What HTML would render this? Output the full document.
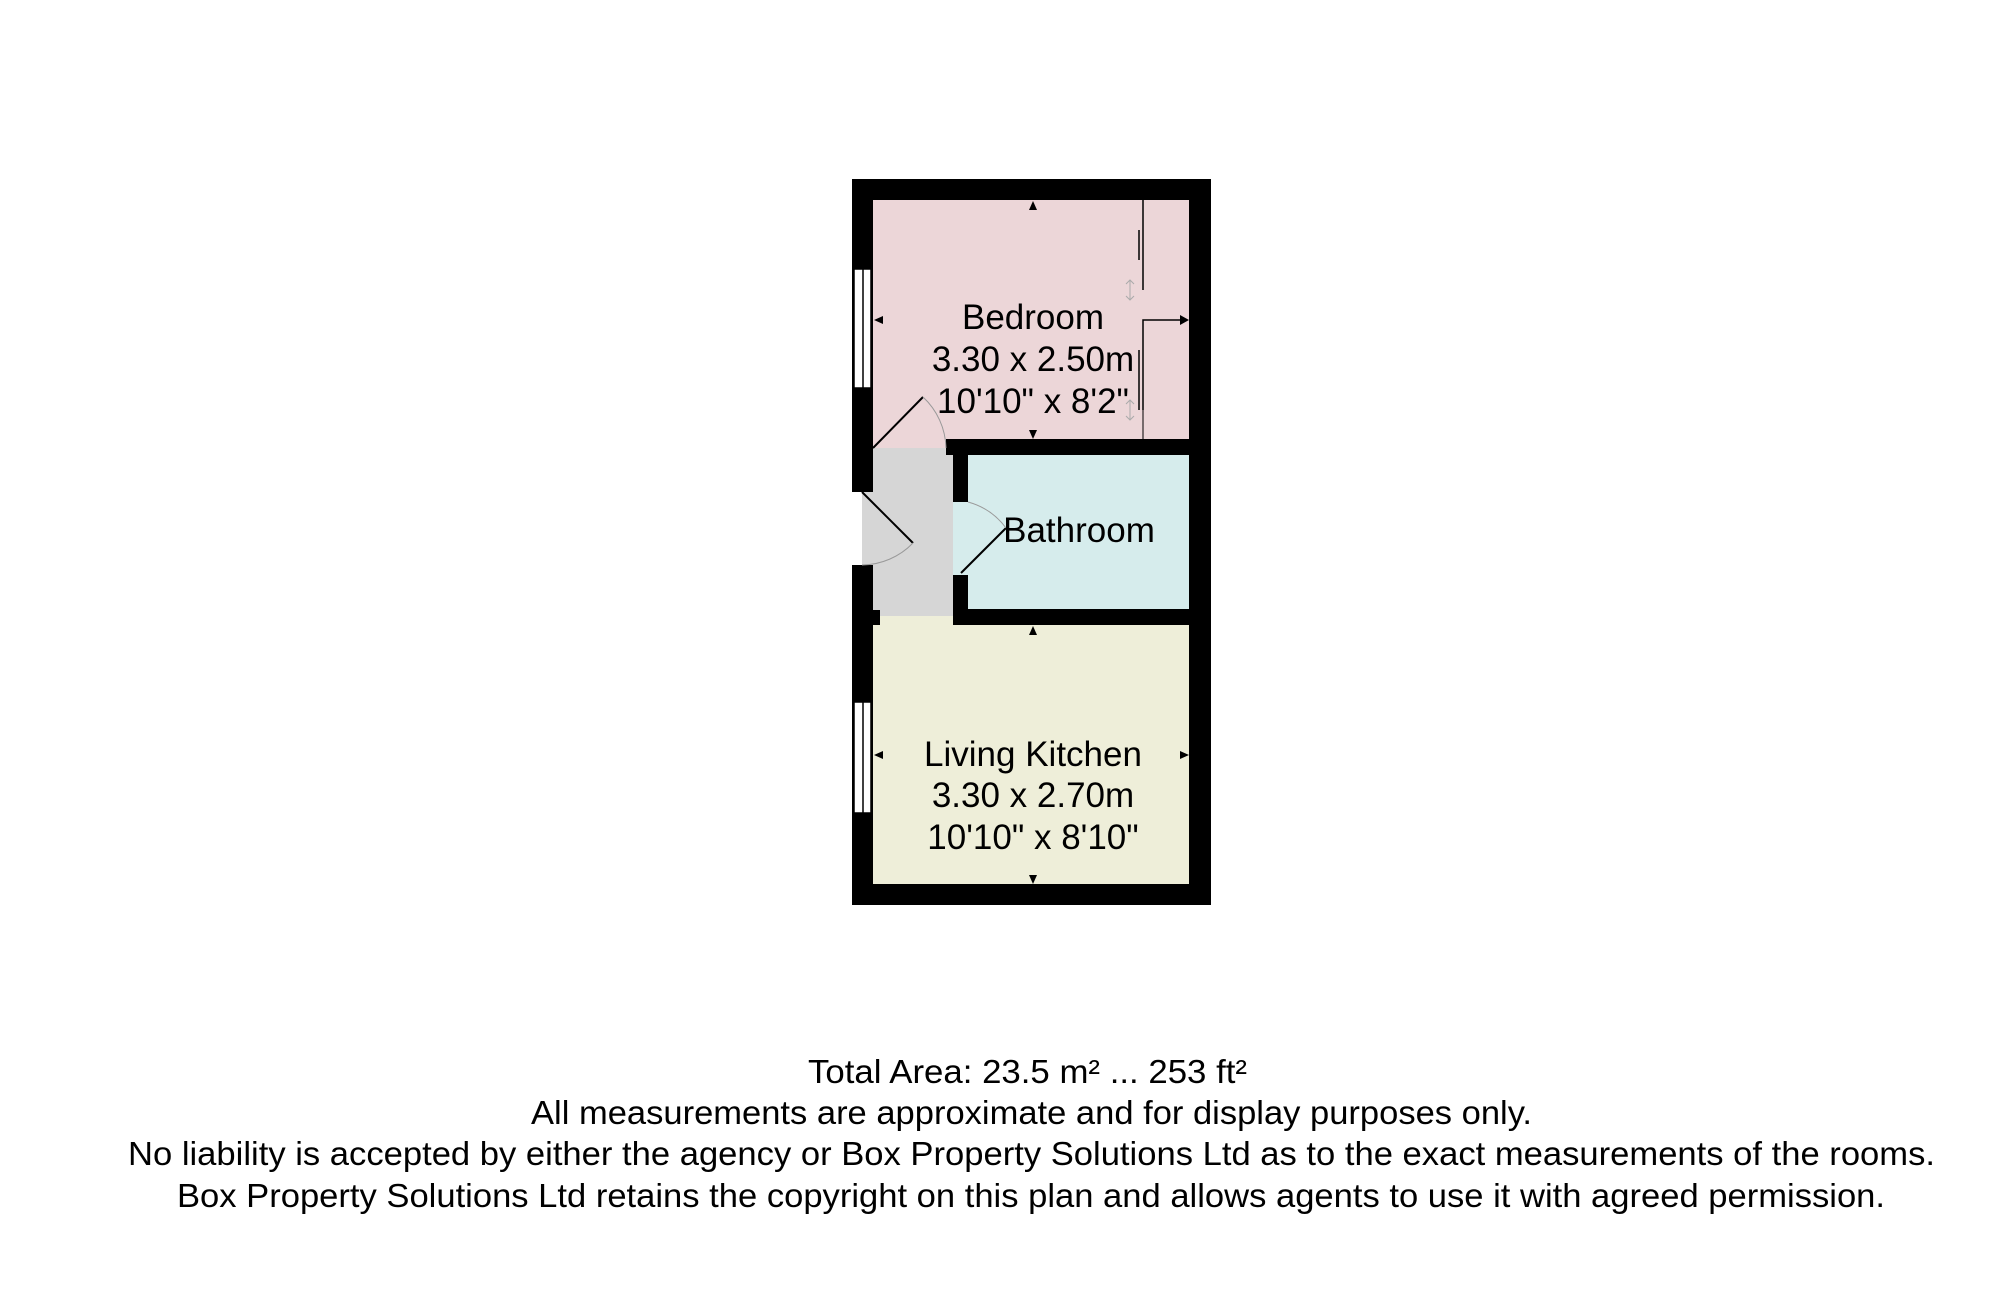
<!DOCTYPE html>
<html><head><meta charset="utf-8"><style>
html,body{margin:0;padding:0;background:#fff;}
svg{display:block;}
text{font-family:"Liberation Sans",Arial,sans-serif;fill:#000;}
</style></head><body>
<svg width="2000" height="1315" viewBox="0 0 2000 1315" xmlns="http://www.w3.org/2000/svg">
<rect width="2000" height="1315" fill="#fff"/>
<!-- room fills -->
<rect x="873" y="200" width="316" height="248" fill="#ecd6d8"/>
<rect x="862" y="448" width="91" height="168" fill="#d6d6d6"/>
<rect x="953" y="455" width="237" height="154" fill="#d6ecec"/>
<rect x="953" y="502" width="7" height="73" fill="#d6ecec"/>
<rect x="873" y="616" width="316" height="268" fill="#eeeed9"/>
<!-- walls -->
<rect x="852" y="179" width="359" height="21" fill="#000"/>
<rect x="1189" y="179" width="22" height="726" fill="#000"/>
<rect x="852" y="884" width="359" height="21" fill="#000"/>
<rect x="852" y="179" width="21" height="313" fill="#000"/>
<rect x="852" y="565" width="21" height="340" fill="#000"/>
<rect x="852" y="610" width="28" height="15" fill="#000"/>
<rect x="946" y="439" width="265" height="16" fill="#000"/>
<rect x="953" y="439" width="15" height="63" fill="#000"/>
<rect x="953" y="575" width="15" height="50" fill="#000"/>
<rect x="953" y="609" width="258" height="16" fill="#000"/>
<!-- windows -->
<rect x="854" y="269" width="17" height="119" fill="#fff" stroke="#000" stroke-width="1.5"/>
<line x1="863" y1="269" x2="863" y2="388" stroke="#000" stroke-width="1.5"/>
<rect x="854" y="702" width="17" height="111" fill="#fff" stroke="#000" stroke-width="1.5"/>
<line x1="863" y1="702" x2="863" y2="813" stroke="#000" stroke-width="1.5"/>
<!-- doors -->
<line x1="873" y1="448" x2="923" y2="397" stroke="#000" stroke-width="2"/>
<path d="M923 397 A72 72 0 0 1 946 448" fill="none" stroke="#999" stroke-width="1"/>
<line x1="862" y1="492" x2="913" y2="543" stroke="#000" stroke-width="2"/>
<path d="M913 543 A72 72 0 0 1 862 565" fill="none" stroke="#999" stroke-width="1"/>
<line x1="961" y1="573" x2="1006" y2="528" stroke="#000" stroke-width="2"/>
<path d="M968 502 A70 70 0 0 1 1006 528" fill="none" stroke="#999" stroke-width="1"/>
<!-- wardrobe lines -->
<line x1="1143" y1="200" x2="1143" y2="290" stroke="#000" stroke-width="1.5"/>
<line x1="1139" y1="230" x2="1139" y2="260" stroke="#000" stroke-width="1.5"/>
<polyline points="1143,410 1143,320 1180,320" fill="none" stroke="#000" stroke-width="1.5"/>
<polygon points="1180,315 1189,320 1180,325" fill="#000"/>
<line x1="1139" y1="350" x2="1139" y2="410" stroke="#000" stroke-width="1.5"/>
<line x1="1143" y1="410" x2="1143" y2="440" stroke="#000" stroke-width="1"/>
<g stroke="#aaa" stroke-width="1" fill="none">
<path d="M1130 280 L1130 300 M1126 284 L1130 280 L1134 284 M1126 296 L1130 300 L1134 296"/>
<path d="M1130 400 L1130 420 M1126 404 L1130 400 L1134 404 M1126 416 L1130 420 L1134 416"/>
</g>
<!-- dimension arrows -->
<g fill="#000">
<polygon points="1033,201 1029,210 1037,210"/>
<polygon points="1033,439 1029,430 1037,430"/>
<polygon points="874,320 883,316 883,324"/>
<polygon points="1033,626 1029,635 1037,635"/>
<polygon points="1033,884 1029,875 1037,875"/>
<polygon points="874,755 883,751 883,759"/>
<polygon points="1189,755 1180,751 1180,759"/>
</g>
<!-- labels -->
<g font-size="35" text-anchor="middle">
<text x="1033" y="329">Bedroom</text>
<text x="1033" y="371">3.30 x 2.50m</text>
<text x="1033" y="413">10'10" x 8'2"</text>
<text x="1079" y="542">Bathroom</text>
<text x="1033" y="766">Living Kitchen</text>
<text x="1033" y="807">3.30 x 2.70m</text>
<text x="1033" y="849">10'10" x 8'10"</text>
</g>
<g font-size="33">
<text x="808" y="1083" textLength="439" lengthAdjust="spacingAndGlyphs">Total Area: 23.5 m² ... 253 ft²</text>
<text x="531" y="1124" textLength="1001" lengthAdjust="spacingAndGlyphs">All measurements are approximate and for display purposes only.</text>
<text x="128" y="1165" textLength="1807" lengthAdjust="spacingAndGlyphs">No liability is accepted by either the agency or Box Property Solutions Ltd as to the exact measurements of the rooms.</text>
<text x="177" y="1207" textLength="1708" lengthAdjust="spacingAndGlyphs">Box Property Solutions Ltd retains the copyright on this plan and allows agents to use it with agreed permission.</text>
</g>
</svg>
</body></html>
